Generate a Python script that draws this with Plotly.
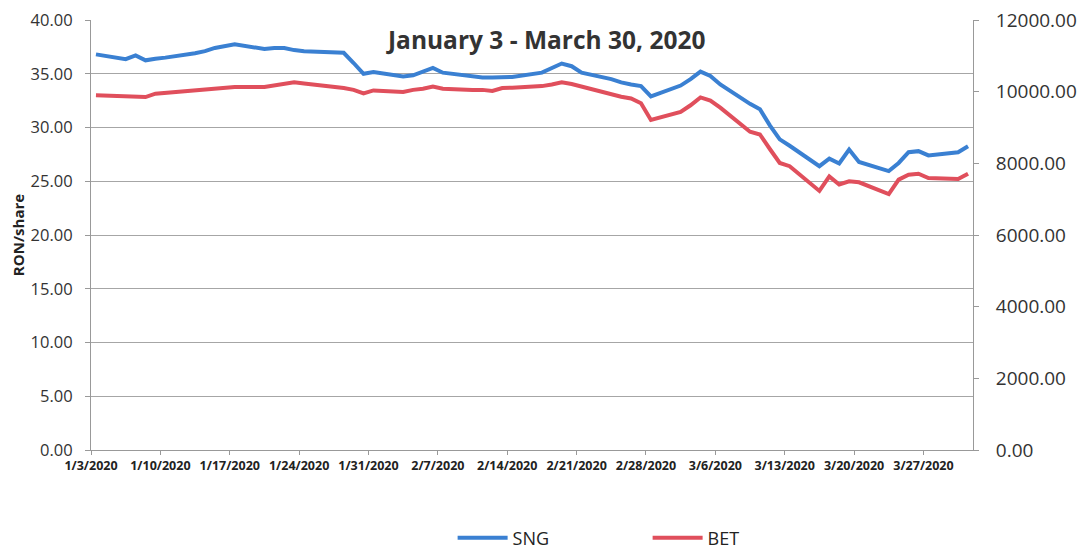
import plotly.graph_objects as go
import pandas as pd

# Trading days (Jan 3 - Mar 31, 2020)
dates = [
    "2020-01-03", "2020-01-06", "2020-01-07", "2020-01-08", "2020-01-09", "2020-01-10",
    "2020-01-13", "2020-01-14", "2020-01-15", "2020-01-16", "2020-01-17",
    "2020-01-20", "2020-01-21", "2020-01-22", "2020-01-23", "2020-01-24",
    "2020-01-27", "2020-01-28", "2020-01-29", "2020-01-30", "2020-01-31",
    "2020-02-03", "2020-02-04", "2020-02-05", "2020-02-06", "2020-02-07",
    "2020-02-10", "2020-02-11", "2020-02-12", "2020-02-13", "2020-02-14",
    "2020-02-17", "2020-02-18", "2020-02-19", "2020-02-20", "2020-02-21",
    "2020-02-24", "2020-02-25", "2020-02-26", "2020-02-27", "2020-02-28",
    "2020-03-02", "2020-03-03", "2020-03-04", "2020-03-05", "2020-03-06",
    "2020-03-09", "2020-03-10", "2020-03-11", "2020-03-12", "2020-03-13",
    "2020-03-16", "2020-03-17", "2020-03-18", "2020-03-19", "2020-03-20",
    "2020-03-23", "2020-03-24", "2020-03-25", "2020-03-26", "2020-03-27",
    "2020-03-30", "2020-03-31",
]

# SNG share price, RON/share (left axis)
sng = [
    36.8, 36.35, 36.7, 36.25, 36.4, 36.5,
    36.9, 37.1, 37.4, 37.6, 37.75,
    37.3, 37.4, 37.4, 37.2, 37.1,
    37.0, 36.95, 36.0, 35.0, 35.15,
    34.75, 34.85, 35.25, 35.55, 35.1,
    34.7, 34.65, 34.65, 34.65, 34.7,
    35.1, 35.55, 35.95, 35.7, 35.1,
    34.5, 34.2, 34.0, 33.85, 32.9,
    33.9, 34.5, 35.2, 34.8, 34.0,
    32.2, 31.7, 30.2, 28.9, 28.3,
    26.4, 27.1, 26.65, 27.95, 26.8,
    25.95, 26.7, 27.7, 27.8, 27.4,
    27.7, 28.25,
]

# BET index points (right axis)
bet = [
    9900, 9860, 9870, 9850, 9945, 9970,
    10050, 10065, 10100, 10120, 10130,
    10130, 10170, 10230, 10260, 10230,
    10140, 10100, 10050, 9950, 10035,
    9990, 10050, 10080, 10140, 10080,
    10050, 10050, 10020, 10100, 10110,
    10155, 10200, 10260, 10215, 10140,
    9930, 9860, 9810, 9675, 9210,
    9435, 9620, 9840, 9750, 9555,
    8880, 8805, 8400, 8010, 7920,
    7230, 7635, 7410, 7500, 7470,
    7140, 7545, 7680, 7710, 7590,
    7560, 7710,
]

left_ticks = [0, 5, 10, 15, 20, 25, 30, 35, 40]
right_ticks = [0, 2000, 4000, 6000, 8000, 10000, 12000]
x_tick_dates = ["2020-01-03", "2020-01-10", "2020-01-17", "2020-01-24", "2020-01-31",
                "2020-02-07", "2020-02-14", "2020-02-21", "2020-02-28", "2020-03-06",
                "2020-03-13", "2020-03-20", "2020-03-27"]
x_tick_labels = ["1/3/2020", "1/10/2020", "1/17/2020", "1/24/2020", "1/31/2020",
                 "2/7/2020", "2/14/2020", "2/21/2020", "2/28/2020", "3/6/2020",
                 "3/13/2020", "3/20/2020", "3/27/2020"]

# points centred within their day (Excel date-axis style)
xs = pd.to_datetime(dates) + pd.Timedelta(hours=12)

BLUE = "#3a80d2"
RED = "#e04f5c"
FONT = "Open Sans"

fig = go.Figure()
fig.add_trace(go.Scatter(x=xs, y=sng, name="SNG", mode="lines",
                         line=dict(color=BLUE, width=4), yaxis="y"))
fig.add_trace(go.Scatter(x=xs, y=bet, name="BET", mode="lines",
                         line=dict(color=RED, width=4), yaxis="y2"))

# page body adds an 8px margin, so the figure is sized to fit the 1092x550 window
fig.update_layout(
    width=1084, height=542,
    margin=dict(l=83, r=119, t=12, b=100, autoexpand=False),
    paper_bgcolor="white", plot_bgcolor="white",
    font=dict(family=FONT, color="#333333"),
    xaxis=dict(
        type="date",
        range=["2020-01-03", "2020-04-01"],
        tickmode="array", tickvals=x_tick_dates, ticktext=x_tick_labels,
        tickfont=dict(size=12.5, family=FONT, weight="bold", color="#222222"),
        showgrid=False, showline=True, linecolor="#999999", linewidth=1,
        ticks="outside", ticklen=4, tickcolor="#999999",
        zeroline=False, automargin=False,
    ),
    yaxis=dict(
        range=[0, 40], tickvals=left_ticks, tickformat=".2f",
        tickfont=dict(size=16.5, family=FONT, color="#333333"),
        ticklabelstandoff=9, ticklabeloverflow="allow",
        showgrid=True, gridcolor="#a6a6a6", gridwidth=1,
        showline=True, linecolor="#999999", linewidth=1,
        ticks="outside", ticklen=5, tickcolor="#999999",
        zeroline=False, automargin=False,
        title=dict(text="RON/share", font=dict(size=15, family=FONT, weight="bold", color="#222222"),
                   standoff=2),
    ),
    yaxis2=dict(
        range=[0, 12000], tickvals=right_ticks, tickformat=".2f",
        overlaying="y", side="right",
        tickfont=dict(size=19, family=FONT, color="#333333"),
        ticklabelstandoff=13, ticklabeloverflow="allow",
        showgrid=False, showline=True, linecolor="#999999", linewidth=1,
        ticks="outside", ticklen=5, tickcolor="#999999",
        zeroline=False, automargin=False,
    ),
    legend=dict(
        orientation="h", x=0.41, xanchor="left", y=-0.205, yanchor="middle",
        font=dict(size=18, family=FONT, color="#222222"),
        entrywidth=130, itemwidth=50,
    ),
    annotations=[dict(
        text="<b>January 3 - March 30, 2020</b>", xref="paper", yref="paper",
        x=0.515, y=0.955, xanchor="center", yanchor="middle", showarrow=False,
        font=dict(size=24.5, family=FONT, color="#333333"),
    )],
)

fig.write_html("out.html")
